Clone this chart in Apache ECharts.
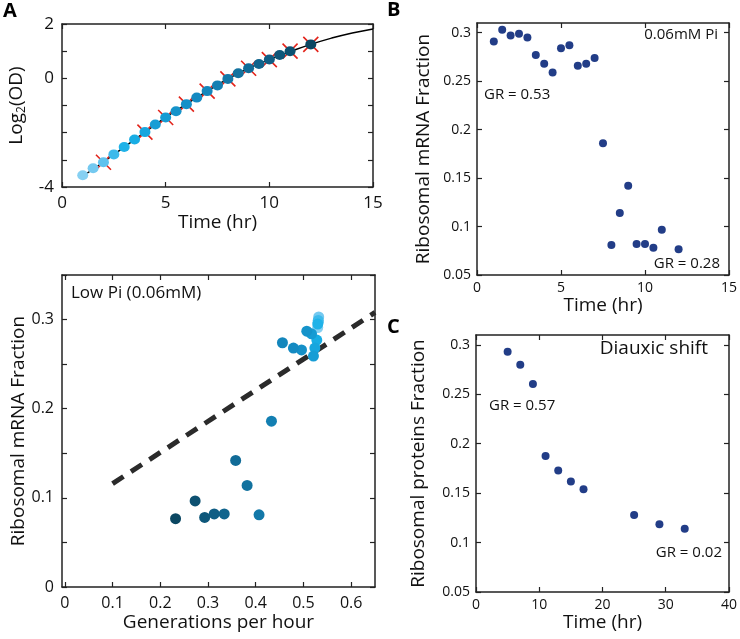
<!DOCTYPE html>
<html><head><meta charset="utf-8">
<script src="https://cdn.jsdelivr.net/npm/echarts@6/dist/echarts.min.js"></script>
<style>html,body{margin:0;padding:0;background:#fff}#c{width:740px;height:639px}</style>
</head><body><div id="c"></div>
<script>
// ---------- data ----------
const timeA = [1,1.5,2,2.5,3,3.5,4,4.5,5,5.5,6,6.5,7,7.5,8,8.5,9,9.5,10,10.5,11,12];
const log2OD = [-3.57,-3.31,-3.09,-2.8,-2.53,-2.25,-1.98,-1.7,-1.44,-1.21,-0.95,-0.71,-0.47,-0.26,-0.02,0.19,0.37,0.53,0.69,0.86,1.0,1.25];
const fitTime = [1,2,3,4,5,6,7,8,9,10,11,12,13,14,15];
const fitLog2OD = [-3.6,-3.08,-2.53,-1.98,-1.44,-0.95,-0.47,-0.02,0.37,0.69,0.98,1.25,1.48,1.67,1.82];
const crossTime = [2,4,5,6,7,8,9,10,11,12];
const growthRate = [0.530,0.532,0.531,0.531,0.530,0.528,0.524,0.521,0.517,0.507,0.496,0.479,0.456,0.433,0.407,0.382,0.358,0.334,0.313,0.293,0.273,0.232];
const rnaFraction = [0.291,0.303,0.297,0.299,0.295,0.277,0.268,0.259,0.284,0.287,0.266,0.268,0.274,0.186,0.081,0.114,0.142,0.082,0.082,0.078,0.0966,0.0766];
const dashGR = [0.1, 0.65];
const dashFraction = [0.116, 0.308];
const timeC = [5,7,9,11,13,15,17,25,29,33];
const protFraction = [0.293,0.280,0.2605,0.1877,0.173,0.1617,0.154,0.128,0.1185,0.114];
const ticksAy = [-4,0,2];
const ticksGR = [0,0.1,0.2,0.3,0.4,0.5,0.6];
const ticksLowY = [0,0.1,0.2,0.3];
const ticksFrac = [0.05,0.1,0.15,0.2,0.25,0.3];

// ---------- styles ----------
const pointColors = ['#86d0f2','#74c9f0','#5fc2ee','#3dbaeb','#1fb2e8','#18ade4','#17a6de','#179dd5','#169bd3','#1593ca','#1590c8','#148ac2','#1386bc','#137fb2','#1378a8','#12729f','#116b97','#10648d','#0f5d84','#0e577a','#0d5171','#0b4762'];
const FONT = '"Open Sans", "Noto Sans", sans-serif';
const AX = '#222';
const navy = '#223d87';

function axesFor(g, o) {
  const line = {show:true, onZero:false, lineStyle:{color:AX, width:1.5}};
  const tick = c => Object.assign({inside:true, length:5, lineStyle:{color:AX, width:1.2}}, c?{customValues:c}:{});
  const xs = [
    {gridIndex:g, type:'value', min:o.xmin, max:o.xmax, interval:o.xint, position:'bottom',
     axisLine:line, splitLine:{show:false}, axisTick:tick(o.xTickCustom),
     axisLabel:Object.assign({color:'#111', fontSize:o.fs, fontFamily:FONT, margin:o.xlm, formatter:v=>String(+v.toFixed(3))}, o.xLabCustom?{customValues:o.xLabCustom}:{}),
     name:o.xname, nameLocation:'middle', nameGap:o.xng, nameTextStyle:{fontSize:o.nfs, fontFamily:FONT, color:'#111'}},
    {gridIndex:g, type:'value', min:o.xmin, max:o.xmax, interval:o.xint, position:'top',
     axisLine:line, splitLine:{show:false}, axisLabel:{show:false}, axisTick:tick(o.xTickCustom)}
  ];
  const ys = [
    {gridIndex:g, type:'value', min:o.ymin, max:o.ymax, interval:o.yint, position:'left',
     axisLine:line, splitLine:{show:false}, axisTick:tick(o.yTickCustom),
     axisLabel:Object.assign({color:'#111', fontSize:o.fs, fontFamily:FONT, margin:o.ylm, formatter:v=>String(+v.toFixed(3))}, o.yLabCustom?{customValues:o.yLabCustom}:{}),
     name:o.yname, nameLocation:'middle', nameGap:o.yng, nameRotate:90,
     nameTextStyle:Object.assign({fontSize:o.nfs, fontFamily:FONT, color:'#111'}, o.yrich?{rich:o.yrich}:{})},
    {gridIndex:g, type:'value', min:o.ymin, max:o.ymax, interval:o.yint, position:'right',
     axisLine:line, splitLine:{show:false}, axisLabel:{show:false}, axisTick:tick(o.yTickCustom)}
  ];
  return {xs, ys};
}

const A = axesFor(0, {xmin:0,xmax:15,xint:5, ymin:-4,ymax:2,yint:1, yLabCustom:ticksAy, fs:17, nfs:19, xlm:8, ylm:8,
  xname:'Time (hr)', xng:26, yname:'{a|Log}{s|2}{a|(OD)}', yng:34,
  yrich:{a:{fontSize:19, fontFamily:FONT, color:'#111'}, s:{fontSize:12, fontFamily:FONT, color:'#111', verticalAlign:'bottom', padding:[10,0,0,0]}}});
const L = axesFor(1, {xmin:-0.006,xmax:0.65, xTickCustom:ticksGR, xLabCustom:ticksGR, ymin:0,ymax:0.35,yint:0.05, yLabCustom:ticksLowY,
  fs:16, nfs:19, xlm:8, ylm:8, xname:'Generations per hour', xng:26, yname:'Ribosomal mRNA Fraction', yng:32});
const B = axesFor(2, {xmin:0,xmax:15,xint:5, ymin:0.05,ymax:0.31, yTickCustom:ticksFrac, yLabCustom:ticksFrac,
  fs:14, nfs:19, xlm:6, ylm:6, xname:'Time (hr)', xng:20, yname:'Ribosomal mRNA Fraction', yng:44});
const C = axesFor(3, {xmin:0,xmax:40,xint:10, ymin:0.05,ymax:0.31, yTickCustom:ticksFrac, yLabCustom:ticksFrac,
  fs:14, nfs:19, xlm:6, ylm:6, xname:'Time (hr)', xng:18, yname:'Ribosomal proteins Fraction', yng:48});

const xAxis = [...A.xs, ...L.xs, ...B.xs, ...C.xs];
const yAxis = [...A.ys, ...L.ys, ...B.ys, ...C.ys];

const colored = (xs, ys) => xs.map((x,i)=>({value:[x, ys[i]], itemStyle:{color:pointColors[i], opacity:1}}));
const crossData = crossTime.map(t => [t, log2OD[timeA.indexOf(t)]]);

const option = {
  animation:false,
  backgroundColor:'#fff',
  grid:[
    {left:62, top:24, width:311, height:163},
    {left:62, top:275, width:313, height:312},
    {left:477, top:23, width:253, height:252},
    {left:476, top:335, width:256, height:257}
  ],
  xAxis, yAxis,
  series:[
    {type:'line', xAxisIndex:0, yAxisIndex:0, data:fitTime.map((t,i)=>[t, fitLog2OD[i]]), smooth:true, symbol:'none',
     lineStyle:{color:'#000', width:1.5}, z:2},
    {type:'scatter', xAxisIndex:0, yAxisIndex:0, data:crossData, symbol:'path://M0,0L10,10M10,0L0,10', symbolSize:15,
     itemStyle:{color:'none', borderColor:'#e3241b', borderWidth:1.6, opacity:1}, z:3},
    {type:'scatter', xAxisIndex:0, yAxisIndex:0, data:colored(timeA, log2OD), symbolSize:[11,10], z:4},
    {type:'line', xAxisIndex:2, yAxisIndex:2, data:dashGR.map((x,i)=>[x, dashFraction[i]]), symbol:'none',
     lineStyle:{color:'#2b2b2b', width:5, type:[13,9]}, z:2},
    {type:'scatter', xAxisIndex:2, yAxisIndex:2, data:colored(growthRate, rnaFraction), symbolSize:11, z:4},
    {type:'scatter', xAxisIndex:4, yAxisIndex:4, data:timeA.map((t,i)=>[t, rnaFraction[i]]), symbolSize:8, itemStyle:{color:navy, opacity:1}},
    {type:'scatter', xAxisIndex:6, yAxisIndex:6, data:timeC.map((t,i)=>[t, protFraction[i]]), symbolSize:8, itemStyle:{color:navy, opacity:1}}
  ],
  graphic:[
    {type:'text', left:3, top:1, style:{text:'A', font:'bold 20px '+FONT, fill:'#000'}},
    {type:'text', left:387, top:0, style:{text:'B', font:'bold 20px '+FONT, fill:'#000'}},
    {type:'text', left:387, top:317, style:{text:'C', font:'bold 20px '+FONT, fill:'#000'}},
    {type:'text', left:71, top:285, style:{text:'Low Pi (0.06mM)', font:'17px '+FONT, fill:'#111'}},
    {type:'text', right:22, top:27, style:{text:'0.06mM Pi', font:'15px '+FONT, fill:'#111'}},
    {type:'text', left:484, top:87, style:{text:'GR = 0.53', font:'15px '+FONT, fill:'#111'}},
    {type:'text', right:20, top:256, style:{text:'GR = 0.28', font:'15px '+FONT, fill:'#111'}},
    {type:'text', right:32, top:339, style:{text:'Diauxic shift', font:'19px '+FONT, fill:'#111'}},
    {type:'text', left:489, top:398, style:{text:'GR = 0.57', font:'15px '+FONT, fill:'#111'}},
    {type:'text', right:18, top:545, style:{text:'GR = 0.02', font:'15px '+FONT, fill:'#111'}}
  ]
};
const chart = echarts.init(document.getElementById('c'), null, {renderer:'canvas', width:740, height:639});
chart.setOption(option);
</script></body></html>
